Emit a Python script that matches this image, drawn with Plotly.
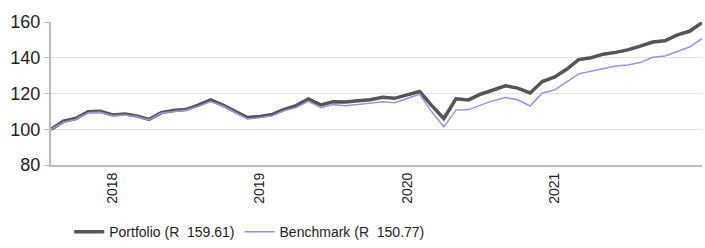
import plotly.graph_objects as go
import pandas as pd

dates = pd.date_range("2017-08-01", periods=54, freq="MS")
portfolio = [100, 104.5, 106, 109.8, 110, 108, 108.5, 107.5, 105.5, 109.3, 110.5, 111,
             113.5, 116.4, 113.5, 110, 106.6, 107.2, 108.3, 111, 113.2, 117, 113.6, 115.4,
             115.2, 116, 116.5, 117.9, 117.3, 119.2, 121.1, 113.5, 106, 117, 116.4, 119.6,
             122.2, 124.3, 123, 120.3, 126.7, 129.3, 133.8, 139, 140, 142, 143, 144.4,
             146.5, 148.8, 149.5, 152.8, 154.8, 159.61]
benchmark = [100, 104, 105.5, 109.3, 109.5, 107.6, 108, 107.2, 105.2, 109, 110, 110.6,
             112.8, 115.5, 113, 109.5, 105.8, 106.5, 107.6, 110.3, 112.2, 115.6, 112, 113.8,
             113.2, 113.8, 114.5, 115.4, 114.8, 117, 119.6, 110, 101.3, 110.7, 111, 113.5,
             116, 117.7, 116.5, 113, 120.3, 122, 126.5, 131, 132.5, 134, 135.4, 136,
             137.3, 140.3, 141, 143.5, 146, 150.77]
tick_dates = ["2018-01-01", "2019-01-01", "2020-01-01", "2021-01-01"]
tick_labels = ["2018", "2019", "2020", "2021"]

fig = go.Figure()
fig.add_trace(go.Scatter(x=dates, y=portfolio, mode="lines", name="Portfolio (R  159.61)",
                         line=dict(color="#555555", width=3.5)))
fig.add_trace(go.Scatter(x=dates, y=benchmark, mode="lines", name="Benchmark (R  150.77)",
                         line=dict(color="#9a94e0", width=1.5)))

fig.update_layout(
    width=705, height=248,
    margin=dict(l=51, r=3, t=22, b=83, autoexpand=False),
    paper_bgcolor="white", plot_bgcolor="white",
    font=dict(family="Liberation Sans, Arial, sans-serif", size=14, color="#222222"),
    showlegend=True,
    legend=dict(orientation="h", x=0.028, xanchor="left", y=-0.47, yanchor="middle",
                font=dict(size=14), itemwidth=30, bgcolor="rgba(0,0,0,0)"),
    xaxis=dict(range=[dates[0], dates[-1]], tickmode="array",
               tickvals=tick_dates, ticktext=tick_labels, tickangle=-90,
               showgrid=False, showline=True, linecolor="#bbbbbb", linewidth=2,
               ticks="", tickfont=dict(size=14), automargin=False),
    yaxis=dict(range=[80, 160], dtick=20, showgrid=True, gridcolor="#e3e3e3",
               showline=True, linecolor="#bbbbbb", linewidth=2, ticks="outside",
               ticklen=5, tickcolor="#bbbbbb", zeroline=False,
               tickfont=dict(size=18), automargin=False),
)
fig.write_html("out.html", config={"displayModeBar": False},
               post_script="document.body.style.margin='0';document.body.style.overflow='hidden';")
